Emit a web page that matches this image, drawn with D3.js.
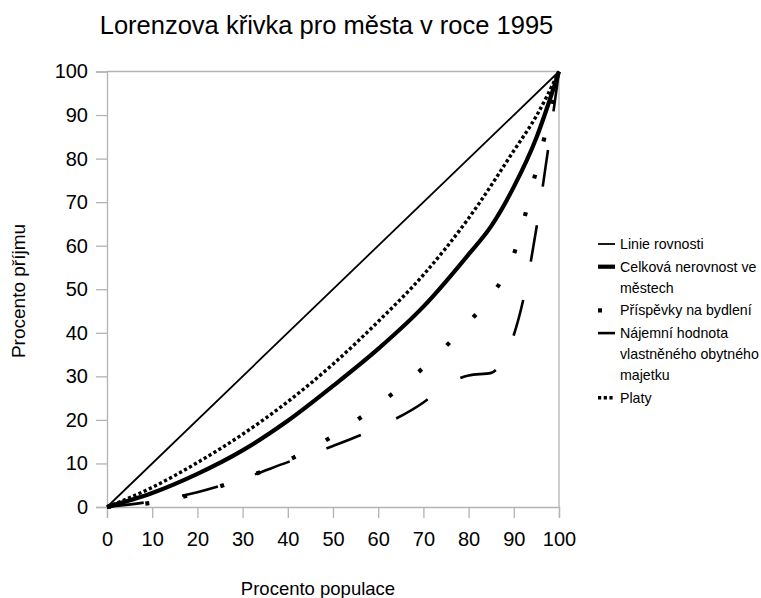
<!DOCTYPE html>
<html>
<head>
<meta charset="utf-8">
<script src="https://cdn.jsdelivr.net/npm/d3@7"></script>
<style>
  html, body { margin: 0; padding: 0; background: #fff; }
  svg text { font-family: "Liberation Sans", Arial, sans-serif; fill: #000; }
</style>
</head>
<body>
<svg id="chart" width="761" height="598"></svg>
<script>
// ---- data ----
const title = "Lorenzova křivka pro města v roce 1995";
const xTitle = "Procento populace";
const yTitle = "Procento příjmu";
const tickValues = [0, 10, 20, 30, 40, 50, 60, 70, 80, 90, 100];

const rovnostX = [0, 100];
const rovnostY = [0, 100];

const celkovaX = [0, 10, 20, 30, 40, 50, 60, 70, 80, 85, 90, 95, 100];
const celkovaY = [0, 3.2, 7.6, 13, 19.8, 27.8, 36.3, 46, 58, 64.5, 73.5, 84.8, 100];

const prispevkyX = [0, 10, 20, 30, 40, 50, 60, 70, 80, 85, 90, 92.5, 95, 97.5, 100];
const prispevkyY = [0, 1.0, 3.2, 6.5, 10.7, 16.3, 23.5, 32, 42.4, 48.5, 58, 67, 77.5, 88, 100];

const najemniX = [0, 10, 20, 30, 40, 50, 60, 70, 75, 80, 85, 87.5, 90, 92.5, 95, 97.5, 100];
const najemniY = [0, 1.3, 3.4, 6.5, 10.3, 14.0, 18.3, 24.0, 28.0, 30.2, 30.8, 33.5, 39.5, 49.5, 64, 81.5, 100];

const platyX = [0, 10, 20, 30, 40, 50, 60, 70, 80, 90, 95, 100];
const platyY = [0, 4.5, 10.2, 16.7, 24.2, 32.8, 42.6, 53.3, 66.3, 81.8, 89.8, 100];

const legendLabels = [
  ["Linie rovnosti"],
  ["Celková nerovnost ve", "městech"],
  ["Příspěvky na bydlení"],
  ["Nájemní hodnota", "vlastněného obytného", "majetku"],
  ["Platy"]
];

// ---- styles ----
const styles = [
  { w: 1.8, dash: null },
  { w: 4.2, dash: null },
  { w: 4.2, dash: "4,34.5" },
  { w: 2.6, dash: "37,39" },
  { w: 3.4, dash: "3.2,2.5" }
];

const series = [
  { x: rovnostX, y: rovnostY },
  { x: celkovaX, y: celkovaY },
  { x: prispevkyX, y: prispevkyY },
  { x: najemniX, y: najemniY },
  { x: platyX, y: platyY }
];

const svg = d3.select("#chart");
const pLeft = 107, pRight = 559, pTop = 71.5, pBottom = 507;

const x = d3.scaleLinear().domain([0, 100]).range([pLeft, pRight]);
const y = d3.scaleLinear().domain([0, 100]).range([pBottom, pTop]);

const gray = "#b3b3b3";

// frame
svg.append("line").attr("x1", pLeft).attr("x2", pRight).attr("y1", pTop).attr("y2", pTop)
  .attr("stroke", gray).attr("stroke-width", 1.3);
svg.append("line").attr("x1", pRight).attr("x2", pRight).attr("y1", pTop).attr("y2", pBottom)
  .attr("stroke", gray).attr("stroke-width", 1.3);

// axes
const xAxis = d3.axisBottom(x).tickValues(tickValues).tickSize(11).tickPadding(14).tickFormat(d3.format("d"));
const yAxis = d3.axisLeft(y).tickValues(tickValues).tickSize(11).tickPadding(8).tickFormat(d3.format("d"));

const gx = svg.append("g").attr("transform", `translate(0,${pBottom})`).call(xAxis);
const gy = svg.append("g").attr("transform", `translate(${pLeft},0)`).call(yAxis);
[gx, gy].forEach(g => {
  g.select(".domain").attr("stroke", gray).attr("stroke-width", 1.3);
  g.selectAll(".tick line").attr("stroke", gray).attr("stroke-width", 1.3);
  g.selectAll(".tick text").attr("font-size", 20).attr("font-family", "Liberation Sans, Arial, sans-serif").attr("fill", "#000");
});

// lines
const line = d3.line().x(d => x(d[0])).y(d => y(d[1])).curve(d3.curveMonotoneX);
series.forEach((s, i) => {
  const pts = s.x.map((v, j) => [v, s.y[j]]);
  const st = styles[i];
  const p = svg.append("path").attr("d", line(pts))
    .attr("fill", "none").attr("stroke", "#000")
    .attr("stroke-width", st.w).attr("stroke-linecap", "butt").attr("stroke-linejoin", "round");
  if (st.dash) p.attr("stroke-dasharray", st.dash);
});

// title
svg.append("text").attr("x", 326.5).attr("y", 34).attr("text-anchor", "middle")
  .attr("font-size", 25.5).text(title);

// axis titles
svg.append("text").attr("x", 318).attr("y", 589).attr("dy", "0.35em").attr("text-anchor", "middle")
  .attr("font-size", 18.5).text(xTitle);
svg.append("text").attr("transform", "translate(18,291) rotate(-90)").attr("dy", "0.35em")
  .attr("text-anchor", "middle").attr("font-size", 19).text(yTitle);

// legend
const lg = svg.append("g");
let ly = 244;
legendLabels.forEach((lines, i) => {
  const st = styles[i];
  const l = lg.append("line").attr("x1", 598).attr("x2", 615).attr("y1", ly).attr("y2", ly)
    .attr("stroke", "#000").attr("stroke-width", st.w).attr("stroke-linecap", "butt");
  if (st.dash) l.attr("stroke-dasharray", st.dash);
  const t = lg.append("text").attr("x", 620).attr("y", ly).attr("font-size", 14.2);
  lines.forEach((ln, k) => {
    t.append("tspan").attr("x", 620).attr("dy", k === 0 ? "0.35em" : 21).text(ln);
  });
  ly += (lines.length - 1) * 21 + 22.7;
});
</script>
</body>
</html>
